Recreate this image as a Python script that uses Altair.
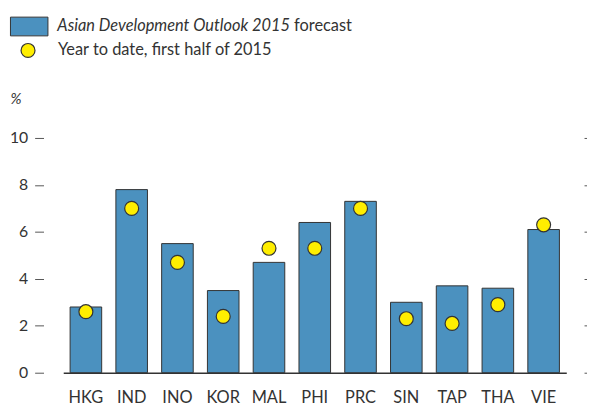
import altair as alt
import pandas as pd

countries = ["HKG", "IND", "INO", "KOR", "MAL", "PHI", "PRC", "SIN", "TAP", "THA", "VIE"]
forecast = [2.8, 7.8, 5.5, 3.5, 4.7, 6.4, 7.3, 3.0, 3.7, 3.6, 6.1]
ytd = [2.6, 7.0, 4.7, 2.4, 5.3, 5.3, 7.0, 2.3, 2.1, 2.9, 6.3]
y_ticks = [0, 2, 4, 6, 8, 10]
series_bar = "Asian Development Outlook 2015"
series_bar_suffix = "forecast"
series_dot = "Year to date, first half of 2015"

FONT = "Lato"
TXT = "#333333"
BLUE = "#4B91BF"
YELLOW = "#FFEE00"
FS = 16.6

df = pd.DataFrame({
    "country": countries,
    "forecast": forecast,
    "ytd": ytd,
    "s1": [series_bar] * len(countries),
    "s2": [series_dot] * len(countries),
})

x_axis = alt.Axis(title=None, labelAngle=0, ticks=False, domain=True,
                  domainColor="#333333", domainWidth=1.5,
                  labelPadding=17, labelFontSize=FS, labelColor=TXT,
                  labelFont=FONT)
x_scale = alt.Scale(paddingInner=0.31, paddingOuter=0.15)
y_scale = alt.Scale(domain=[0, 10], nice=False)

bars = alt.Chart(df).mark_bar(stroke="#333333", strokeWidth=1).encode(
    x=alt.X("country:N", sort=countries, scale=x_scale, axis=x_axis),
    y=alt.Y("forecast:Q", scale=y_scale,
            axis=alt.Axis(orient="left", values=y_ticks, offset=20, tickSize=9,
                          tickColor="#555555", tickWidth=1, domain=False, grid=False,
                          labelPadding=7, labelFontSize=16, labelColor=TXT, labelFont=FONT,
                          title="%", titleAngle=0, titleAlign="left", titleBaseline="middle",
                          titleX=-34, titleY=-40, titleFontStyle="italic",
                          titleFontWeight="normal", titleFontSize=15, titleColor=TXT,
                          titleFont=FONT)),
    fill=alt.Fill("s1:N", scale=alt.Scale(domain=[series_bar], range=[BLUE]),
                  legend=alt.Legend(orient="none", legendX=-54, legendY=-132.5, title=None,
                                    symbolType="M-1,-0.5H1V0.5H-1Z", symbolSize=1444,
                                    symbolStrokeColor="#333333", symbolStrokeWidth=1,
                                    labelOffset=9, labelFontStyle="italic",
                                    labelFontSize=FS, labelColor=TXT, labelFont=FONT,
                                    padding=0, labelLimit=400)),
)

dots = alt.Chart(df).mark_circle(size=200, stroke="#333333", strokeWidth=1.2, opacity=1).encode(
    x=alt.X("country:N", sort=countries, scale=x_scale, axis=x_axis),
    y=alt.Y("ytd:Q", scale=y_scale,
            axis=alt.Axis(orient="right", values=y_ticks, offset=18, tickSize=8,
                          tickColor="#555555", tickWidth=1, labels=False, domain=False,
                          grid=False, title=None)),
    fill=alt.Fill("s2:N", scale=alt.Scale(domain=[series_dot], range=[YELLOW]),
                  legend=alt.Legend(orient="none", legendX=-44, legendY=-97, title=None,
                                    symbolType="circle", symbolSize=200,
                                    symbolStrokeColor="#333333", symbolStrokeWidth=1.2,
                                    symbolOpacity=1, labelOffset=22,
                                    labelFontSize=FS, labelColor=TXT, labelFont=FONT,
                                    padding=0, labelLimit=400)),
)

suffix = alt.Chart(pd.DataFrame({"t": [series_bar_suffix]})).mark_text(
    align="left", baseline="middle", fontSize=FS, color=TXT, font=FONT
).encode(x=alt.value(234), y=alt.value(-113), text="t:N")

chart = alt.layer(bars, dots, suffix).resolve_scale(fill="independent").resolve_axis(
    y="independent"
).properties(
    width=510, height=238,
    autosize=alt.AutoSizeParams(type="none"),
    padding={"left": 56, "top": 129, "right": 21, "bottom": 32},
).configure_view(stroke=None)

chart.save("out.html", embed_options={"renderer": "svg", "actions": False})
